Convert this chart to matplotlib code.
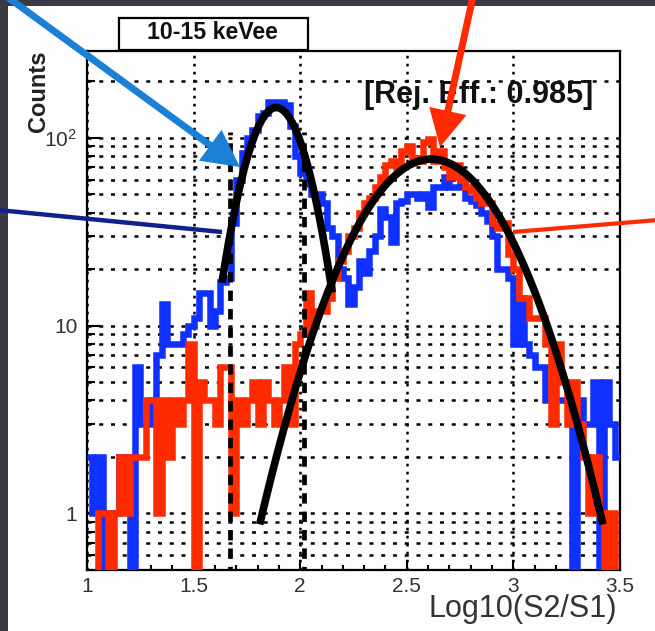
import numpy as np
import matplotlib
matplotlib.use("Agg")
import matplotlib.pyplot as plt
from matplotlib.patches import FancyArrowPatch, Rectangle, ArrowStyle
from matplotlib.lines import Line2D
from matplotlib.ticker import FixedLocator, FixedFormatter, MultipleLocator, LogLocator, NullFormatter

# ---------------- data ----------------
bin_low, bin_high, n_bins = 1.0, 3.5, 100

blue_counts = [2, 1, 2, 0, 1, 1, 2, 2, 0, 6,
               3, 3, 4, 7, 13, 8, 8, 8, 9, 10,
               11, 15, 15, 10, 12, 17, 18, 35, 60, 83,
               100, 110, 130, 135, 155, 155, 155, 150, 115, 80,
               65, 57, 50, 50, 45, 33, 30, 20, 18, 13,
               16, 22, 19, 25, 30, 42, 38, 28, 45, 46,
               50, 50, 48, 50, 43, 55, 55, 62, 55, 55,
               56, 48, 46, 44, 40, 36, 30, 20, 20, 18,
               8, 14, 8, 7, 6, 6, 4, 4, 4, 4,
               4, 0, 4, 3, 3, 5, 0, 5, 3, 2]

red_counts = [0, 0, 1, 1, 0, 1, 2, 1, 2, 2,
              2, 4, 4, 1, 4, 2, 4, 3, 4, 8,
              0, 5, 4, 4, 3, 6, 6, 1, 4, 3,
              4, 5, 3, 5, 4, 3, 4, 6, 3, 8,
              9, 15, 10, 12, 12, 14, 18, 22, 25, 30,
              33, 40, 45, 48, 55, 62, 72, 75, 70, 85,
              90, 78, 75, 95, 98, 75, 85, 70, 62, 72,
              60, 55, 52, 48, 45, 45, 35, 33, 35, 24,
              20, 14, 14, 11, 11, 11, 8, 3, 8, 5,
              3, 5, 3, 2, 1, 2, 1, 0, 1, 0]

# Gaussian fits: amplitude, mean, sigma, and fit range
blue_fit_params = [145.0, 1.888, 0.123]
blue_fit_range = [1.633, 2.15]
red_fit_params = [77.0, 2.615, 0.269]
red_fit_range = [1.81, 3.42]

cut_lines = [1.67, 2.02]
cut_line_top = 108

x_ticks = [1.0, 1.5, 2.0, 2.5, 3.0, 3.5]
x_tick_labels = ["1", "1.5", "2", "2.5", "3", "3.5"]
y_ticks = [1, 10, 100]
y_tick_labels = ["1", "10", r"$\mathregular{10^{2}}$"]

title_text = "10-15 keVee"
rej_text = "[Rej. Eff.: 0.985]"
x_label = "Log10(S2/S1)"
y_label = "Counts"

# ---------------- style ----------------
plt.rcParams["font.family"] = ["Liberation Sans", "DejaVu Sans"]
plt.rcParams["mathtext.fontset"] = "custom"
plt.rcParams["mathtext.rm"] = "Liberation Sans"

W, H = 655, 631
fig = plt.figure(figsize=(W / 100, H / 100), dpi=100, facecolor="#fdfdfd")


def fx(px):
    return px / W


def fy(py):
    return 1 - py / H


ax = fig.add_axes([fx(87), fy(570), fx(620) - fx(87), fy(51) - fy(570)])
ax.set_facecolor("#fdfdfd")
ax.set_yscale("log")
ax.set_xlim(bin_low, bin_high)
ax.set_ylim(0.5, 290)

edges = np.linspace(bin_low, bin_high, n_bins + 1)
blue = np.array(blue_counts, dtype=float)
red = np.array(red_counts, dtype=float)
blue_draw = np.where(blue > 0, blue, 1e-3)
red_draw = np.where(red > 0, red, 1e-3)

ax.stairs(blue_draw, edges, baseline=None, color="#1030ff", lw=4.7,
          joinstyle="miter", zorder=3)
ax.stairs(red_draw, edges, baseline=None, color="#ff2a00", lw=4.7,
          joinstyle="miter", zorder=4)

ax.vlines(cut_lines, 1e-3, cut_line_top, colors="black", lw=3.4,
          linestyles=[(0, (2.2, 1.7))], zorder=5)


def gauss(x, p):
    a, m, s = p
    return a * np.exp(-0.5 * ((x - m) / s) ** 2)


xb = np.linspace(blue_fit_range[0], blue_fit_range[1], 300)
ax.plot(xb, gauss(xb, blue_fit_params), color="black", lw=5.5, zorder=6,
        solid_capstyle="butt")
xr = np.linspace(red_fit_range[0], red_fit_range[1], 400)
ax.plot(xr, gauss(xr, red_fit_params), color="black", lw=5.5, zorder=6,
        solid_capstyle="butt")

# ticks
ax.xaxis.set_major_locator(FixedLocator(x_ticks))
ax.xaxis.set_major_formatter(FixedFormatter(x_tick_labels))
ax.xaxis.set_minor_locator(MultipleLocator(0.1))
ax.yaxis.set_major_locator(FixedLocator(y_ticks))
ax.yaxis.set_major_formatter(FixedFormatter(y_tick_labels))
ax.yaxis.set_minor_locator(LogLocator(base=10, subs=np.arange(2, 10) * 1.0, numticks=20))
ax.yaxis.set_minor_formatter(NullFormatter())

ax.tick_params(axis="both", which="both", direction="in", top=False, right=False,
               colors="black", labelcolor="#333333", labelsize=15, width=1.5)
ax.tick_params(axis="y", which="major", length=10, pad=7)
ax.tick_params(axis="y", which="minor", length=6)
ax.tick_params(axis="x", which="major", length=7, pad=5)
ax.tick_params(axis="x", which="minor", length=3.6)

ax.set_axisbelow(True)
ax.grid(True, axis="y", which="both", color="black", lw=1.8, linestyle=(0, (1.6, 3.1)))
ax.grid(True, axis="x", which="major", color="black", lw=1.8, linestyle=(0, (1.1, 2.1)))

for sp in ax.spines.values():
    sp.set_linewidth(1.6)
    sp.set_color("black")

# ---------------- texts ----------------
fig.text(fx(617), fy(617), x_label, ha="right", va="baseline", fontsize=22,
         color="#333333")
fig.text(fx(38), fy(50), y_label, rotation=90, ha="center", va="top",
         fontsize=17, fontweight="bold", color="#222222")
fig.text(fx(593), fy(103), rej_text, ha="right", va="baseline", fontsize=22,
         fontweight="bold", color="#111111", zorder=6)

fig.add_artist(Rectangle((fx(119), fy(50)), fx(308) - fx(119), fy(18) - fy(50),
                         transform=fig.transFigure, facecolor="white",
                         edgecolor="black", lw=1.6, zorder=5))
fig.text(fx(212), fy(39), title_text, ha="center", va="baseline", fontsize=16.7,
         fontweight="bold", color="#111111", zorder=6)

# ---------------- dark frame edges ----------------
frame_color = "#3a3a46"
fig.add_artist(Rectangle((0, fy(6)), 1, 1 - fy(6), transform=fig.transFigure,
                         facecolor=frame_color, edgecolor="none", zorder=8))
fig.add_artist(Rectangle((0, 0), fx(8), 1, transform=fig.transFigure,
                         facecolor=frame_color, edgecolor="none", zorder=8))

# ---------------- annotation arrows ----------------
arrow_style = ArrowStyle.Simple(head_length=26.5, head_width=27.5, tail_width=5)
fig.add_artist(FancyArrowPatch((fx(6), fy(-4)), (fx(240), fy(167)),
                               transform=fig.transFigure, arrowstyle=arrow_style,
                               mutation_scale=1, color="#1a80d6", lw=0,
                               shrinkA=0, shrinkB=0, zorder=10))
fig.add_artist(FancyArrowPatch((fx(474), fy(-8)), (fx(440), fy(147)),
                               transform=fig.transFigure, arrowstyle=arrow_style,
                               mutation_scale=1, color="#ff2a00", lw=0,
                               shrinkA=0, shrinkB=0, zorder=10))
fig.add_artist(Line2D([fx(-2), fx(222)], [fy(210), fy(232)], transform=fig.transFigure,
                      color="#12208c", lw=3.2, solid_capstyle="butt", zorder=10))
fig.add_artist(Line2D([fx(513), fx(658)], [fy(232), fy(220)], transform=fig.transFigure,
                      color="#ff2a00", lw=3.0, solid_capstyle="butt", zorder=10))

fig.savefig("out.png", dpi=100, facecolor=fig.get_facecolor())
